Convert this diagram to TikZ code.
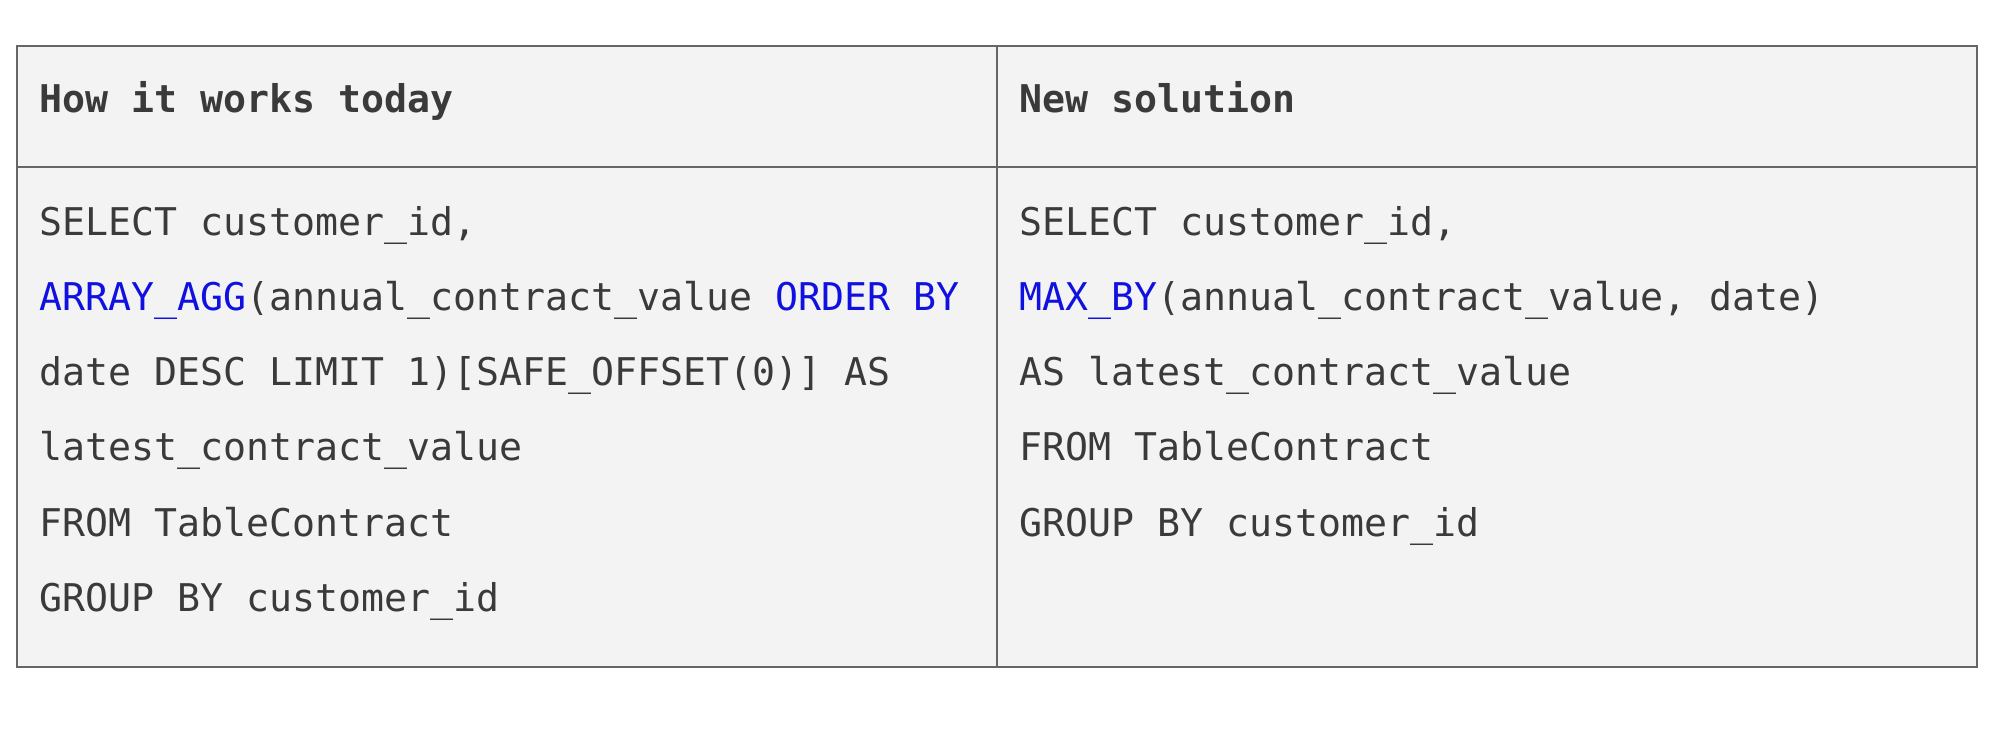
\documentclass[tikz,border=0pt]{standalone}
\usepackage{fontspec}
\setmonofont{DejaVu Sans Mono}
\definecolor{cellbg}{HTML}{F3F3F3}
\definecolor{rule}{HTML}{666666}
\definecolor{txt}{HTML}{3A3A3A}
\definecolor{kw}{HTML}{1010E0}
\newcommand{\kwd}[1]{\textcolor{kw}{#1}}
\begin{document}
\begin{tikzpicture}[x=1pt,y=-1pt,
  line/.style={anchor=base west,inner sep=0,text=txt,font=\fontsize{38.2}{42}\selectfont\ttfamily},
  head/.style={line,font=\fontsize{38.2}{42}\selectfont\ttfamily\bfseries}]
\useasboundingbox (0,0) rectangle (2000,729);
\fill[white] (0,0) rectangle (2000,729);
\fill[cellbg] (16.6,46) rectangle (1977,667);
\draw[rule,line width=2.2] (16.6,46) rectangle (1977,667);
\draw[rule,line width=2.2] (16.6,167) -- (1977,167);
\draw[rule,line width=2.2] (997,46) -- (997,667);
\node[head] (h1) at (39.5,112) {How it works today};
\node[head] (h2) at (1019,112) {New solution};
\node[line] (a1) at (39.5,235) {SELECT customer\_id,};
\node[line] (a2) at (39.5,310) {\kwd{ARRAY\_AGG}(annual\_contract\_value \kwd{ORDER BY}};
\node[line] (a3) at (39.5,385) {date DESC LIMIT 1)[SAFE\_OFFSET(0)] AS};
\node[line] (a4) at (39.5,460) {latest\_contract\_value};
\node[line] (a5) at (39.5,536) {FROM TableContract};
\node[line] (a6) at (39.5,611) {GROUP BY customer\_id};
\node[line] (b1) at (1019,235) {SELECT customer\_id,};
\node[line] (b2) at (1019,310) {\kwd{MAX\_BY}(annual\_contract\_value, date)};
\node[line] (b3) at (1019,385) {AS latest\_contract\_value};
\node[line] (b4) at (1019,460) {FROM TableContract};
\node[line] (b5) at (1019,536) {GROUP BY customer\_id};
\end{tikzpicture}
\end{document}
